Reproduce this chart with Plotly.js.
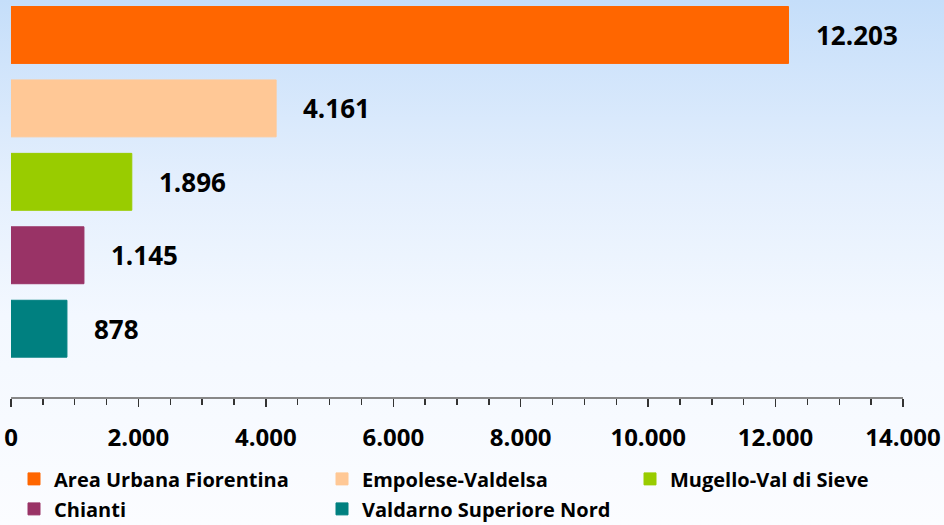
<!DOCTYPE html>
<html>
<head>
<meta charset="utf-8">
<script src="https://cdn.plot.ly/plotly-3.0.1.min.js"></script>
<style>
html,body{margin:0;padding:0;}
body{width:944px;height:525px;background:linear-gradient(to bottom,#c5defa 0%,#e4effd 35%,#f3f8ff 60%,#fbfcff 100%);}
#chart{width:944px;height:525px;}
</style>
</head>
<body>
<div id="chart"></div>
<script>
const categories = ["Area Urbana Fiorentina","Empolese-Valdelsa","Mugello-Val di Sieve","Chianti","Valdarno Superiore Nord"];
const values = [12203, 4161, 1896, 1145, 878];
const colors = ["#ff6600","#ffc896","#99cc00","#993366","#008080"];
const labels = ["12.203","4.161","1.896","1.145","878"];
// legend column for each category (reference lays legend out in 3 columns)
const legendCols = ["legend","legend2","legend3","legend","legend2"];

const traces = categories.map((c,i)=>({
  type:'bar', orientation:'h',
  x:[values[i]], y:[c], name:c,
  marker:{color:colors[i], line:{color:colors[i], width:1}},
  width:0.775,
  legend:legendCols[i], legendgroup:c,
  hoverinfo:'x'
}));

const annotations = categories.map((c,i)=>({
  x:values[i], y:c, xref:'x', yref:'y',
  text:'<b>'+labels[i]+'</b>', showarrow:false,
  xanchor:'left', yanchor:'middle', xshift:25,
  font:{family:'Open Sans', size:26, color:'#000'}
}));

const legendBase = {
  orientation:'v', xref:'container', yref:'container', xanchor:'left', yanchor:'top',
  y:0.125,
  font:{family:'Open Sans', size:20, color:'#000', weight:'bold'},
  bgcolor:'rgba(0,0,0,0)', borderwidth:0, traceorder:'grouped', tracegroupgap:1, itemclick:false
};

const layout = {
  width:944, height:525,
  paper_bgcolor:'rgba(0,0,0,0)', plot_bgcolor:'rgba(0,0,0,0)',
  margin:{l:11, r:41, t:0, b:127.5, autoexpand:false},
  barmode:'overlay',
  separators:',.',
  showlegend:true,
  xaxis:{
    range:[0,14000], dtick:2000, tick0:0, tickformat:',d',
    ticks:'outside', ticklen:8, tickwidth:1.5, tickcolor:'#333',
    showline:true, linecolor:'#888', linewidth:2,
    showgrid:false, zeroline:false, ticklabelstandoff:10,
    minor:{dtick:500, ticks:'outside', ticklen:6, tickwidth:1.5, tickcolor:'#333', showgrid:false},
    tickfont:{family:'Open Sans', size:24, color:'#000', weight:'bold'},
    fixedrange:true, automargin:false
  },
  yaxis:{
    categoryorder:'array', categoryarray:categories,
    range:[4.93,-0.476],
    showticklabels:false, showline:false, showgrid:false, zeroline:false, ticks:'',
    fixedrange:true, automargin:false
  },
  legend:Object.assign({}, legendBase, {x:14/944}),
  legend2:Object.assign({}, legendBase, {x:322/944}),
  legend3:Object.assign({}, legendBase, {x:630/944}),
  annotations:annotations
};

Plotly.newPlot('chart', traces, layout, {displayModeBar:false, staticPlot:true});
</script>
</body>
</html>
